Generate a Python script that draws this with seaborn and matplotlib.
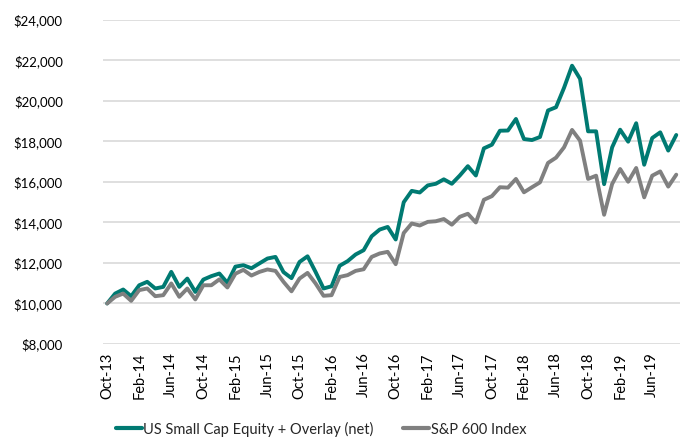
import pandas as pd
import numpy as np
import seaborn as sns
import matplotlib.pyplot as plt
from matplotlib.ticker import FuncFormatter

# monthly data, Oct-13 .. Sep-19
months = pd.date_range('2013-10-01', '2019-09-01', freq='MS')

small_cap = [
    10000, 10490, 10690, 10360, 10900, 11070, 10740, 10820, 11560, 10820, 11230, 10570,
    11180, 11350, 11480, 11020, 11820, 11890, 11740, 11980, 12220, 12300, 11550, 11250,
    12050, 12330, 11560, 10740, 10850, 11860, 12090, 12420, 12630, 13320, 13650, 13780,
    13160, 15000, 15560, 15480, 15830, 15910, 16130, 15910, 16320, 16780, 16320, 17660,
    17840, 18530, 18540, 19110, 18120, 18070, 18220, 19530, 19690, 20650, 21740, 21090,
    18500, 18500, 15890, 17710, 18580, 17990, 18900, 16850, 18170, 18450, 17550, 18320,
]
sp600 = [
    10000, 10330, 10490, 10130, 10660, 10740, 10360, 10410, 10990, 10330, 10740, 10200,
    10900, 10900, 11190, 10790, 11470, 11660, 11380, 11560, 11680, 11610, 11070, 10600,
    11230, 11510, 10990, 10380, 10410, 11310, 11400, 11610, 11690, 12300, 12470, 12550,
    11940, 13480, 13950, 13850, 14030, 14060, 14170, 13890, 14280, 14430, 14000, 15120,
    15300, 15740, 15720, 16150, 15490, 15740, 15980, 16940, 17200, 17710, 18570, 18040,
    16150, 16310, 14380, 15900, 16640, 16010, 16690, 15240, 16310, 16520, 15770, 16360,
]

series_names = ['US Small Cap Equity + Overlay (net)', 'S&P 600 Index']
colors = ['#007A72', '#808080']

df = pd.DataFrame({
    'idx': np.tile(np.arange(len(months)), 2),
    'value': small_cap + sp600,
    'series': [series_names[0]] * len(months) + [series_names[1]] * len(months),
})

sns.set_theme(style='white')
plt.rcParams['font.family'] = ['Lato', 'DejaVu Sans']

fig = plt.figure(figsize=(6.83, 4.43), dpi=100)
ax = fig.add_axes([0.151, 0.2235, 0.845, 0.7315])

sns.lineplot(data=df, x='idx', y='value', hue='series', palette=colors,
             linewidth=2.8, ax=ax, legend=False)

ax.set_xlim(-0.5, len(months) - 0.5)
ax.set_ylim(8000, 24000)
ax.set_yticks(range(8000, 24001, 2000))
ax.yaxis.set_major_formatter(FuncFormatter(lambda v, p: f'${v:,.0f}'))
ax.grid(axis='y', color='#d9d9d9', linewidth=1.2)
ax.set_axisbelow(True)

tick_pos = list(range(0, len(months), 4))
ax.set_xticks(tick_pos)
ax.set_xticklabels([months[i].strftime('%b-%y') for i in tick_pos], rotation=90)

for s in ax.spines.values():
    s.set_visible(False)
ax.tick_params(axis='x', labelsize=10.5, colors='#000000', length=0, pad=6)
ax.tick_params(axis='y', labelsize=9.5, colors='#000000', length=0, pad=29)
ax.set_xlabel('')
ax.set_ylabel('')

handles = [plt.Line2D([], [], color=c, linewidth=3) for c in colors]
fig.legend(handles, series_names, loc='lower center', bbox_to_anchor=(0.47, -0.015),
           ncol=2, frameon=False, fontsize=10.5, handlelength=1.8,
           handletextpad=0.1, columnspacing=2.0)

fig.savefig('out.png', dpi=100)
